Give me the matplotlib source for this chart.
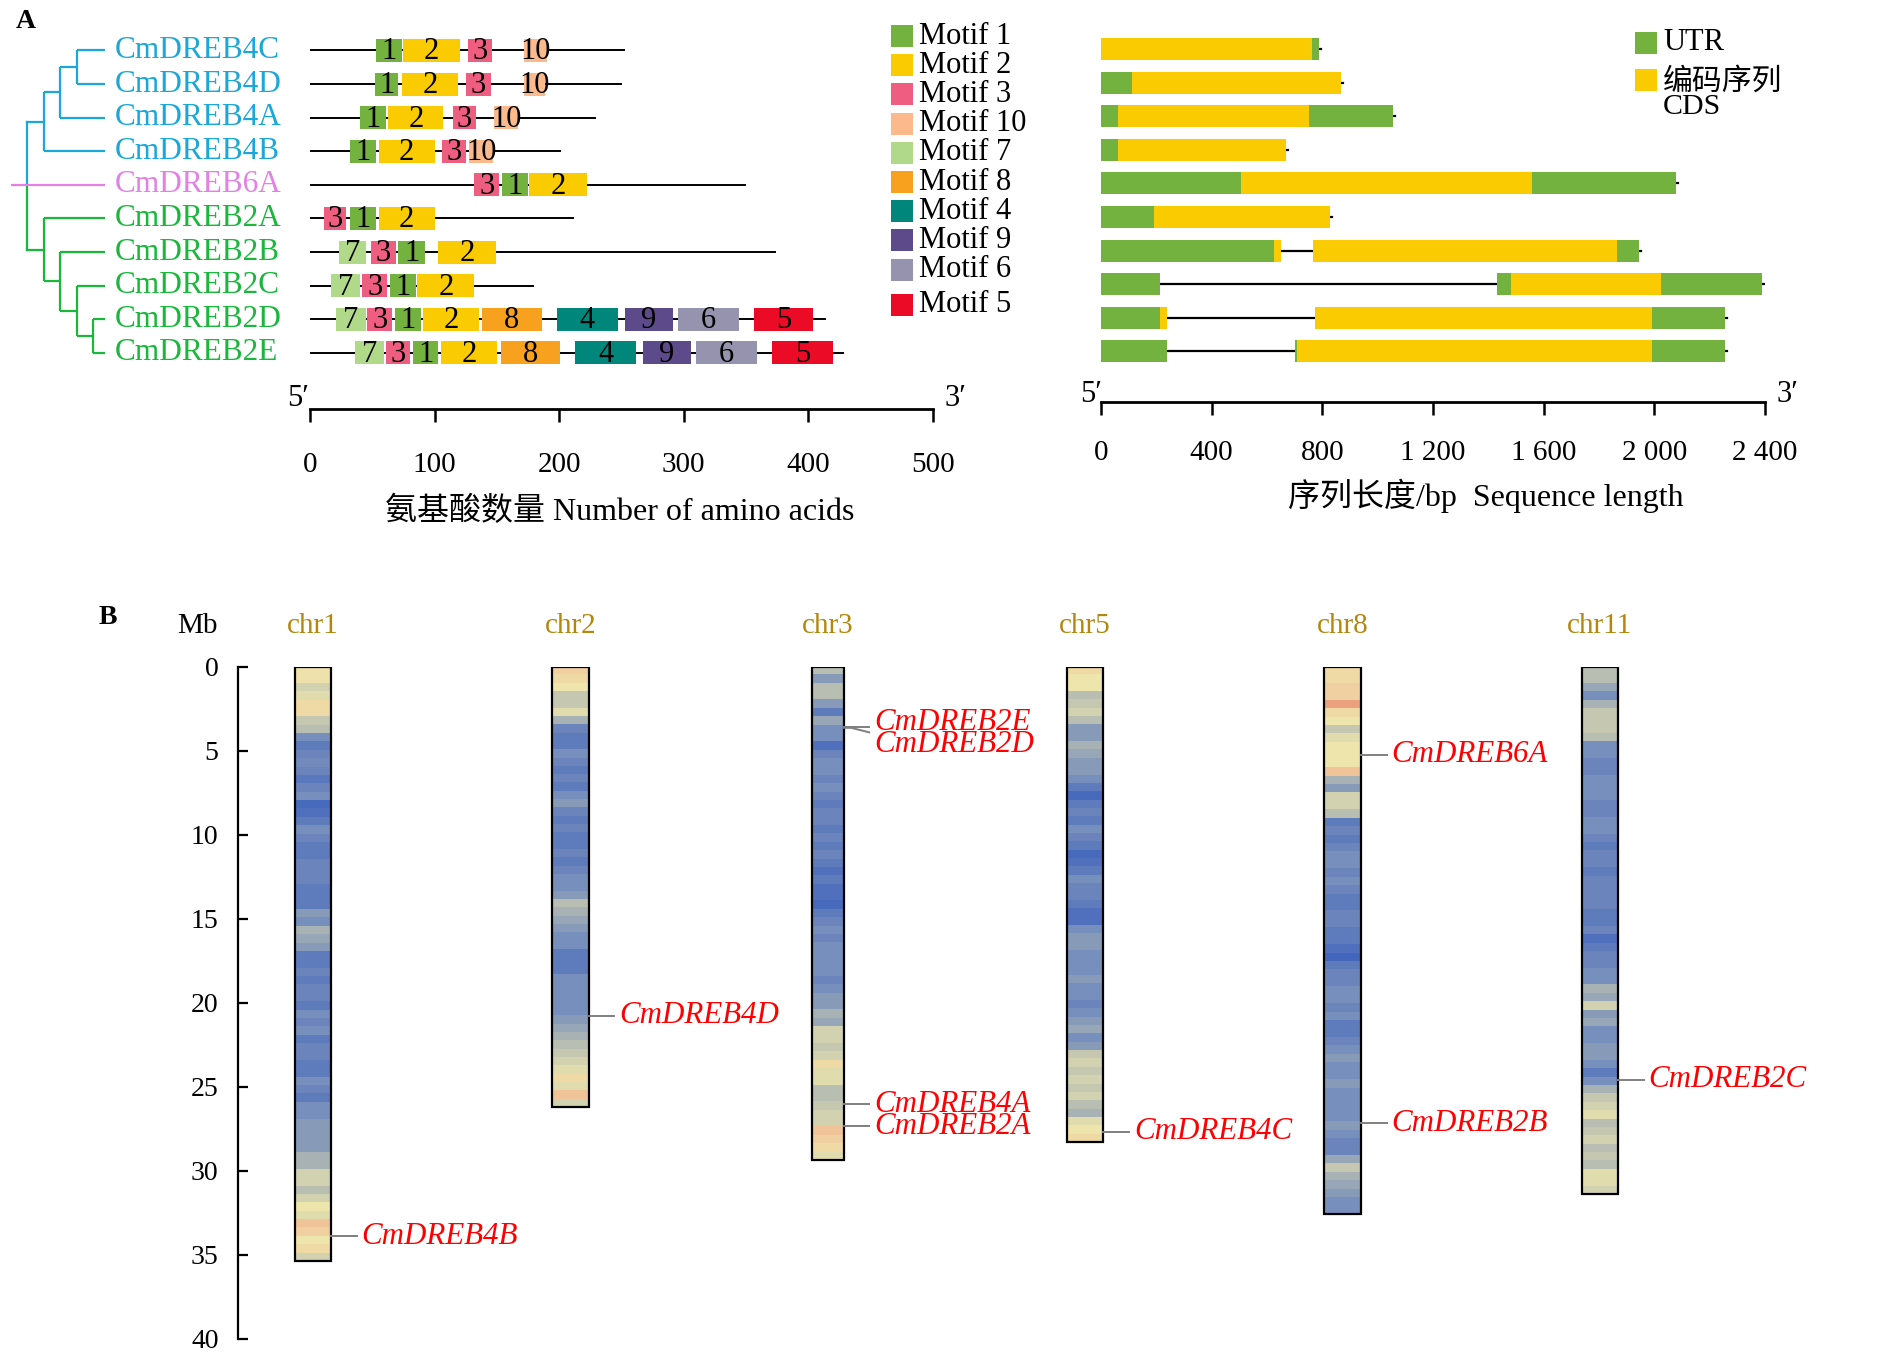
import numpy as np
import matplotlib.pyplot as plt
from matplotlib.patches import Rectangle
from matplotlib.colors import LinearSegmentedColormap

# ---- data: panel A (motifs / gene structure) ----
genes = ['CmDREB4C', 'CmDREB4D', 'CmDREB4A', 'CmDREB4B', 'CmDREB6A',
         'CmDREB2A', 'CmDREB2B', 'CmDREB2C', 'CmDREB2D', 'CmDREB2E']
gene_colors = ['#1AA7DA'] * 4 + ['#E47FE6'] + ['#18B83A'] * 5
protein_len = [252, 250, 229, 201, 349, 211, 373, 179, 413, 428]

# (motif id, start aa, end aa) for each protein
motif_layout = [
    [(1, 53, 74), (2, 75, 120), (3, 127, 146), (10, 172, 190)],
    [(1, 52, 71), (2, 74, 119), (3, 125, 145), (10, 172, 189)],
    [(1, 40, 61), (2, 63, 107), (3, 115, 133), (10, 148, 167)],
    [(1, 32, 53), (2, 55, 100), (3, 106, 125), (10, 128, 147)],
    [(3, 132, 152), (1, 154, 175), (2, 176, 222)],
    [(3, 11, 29), (1, 32, 53), (2, 55, 100)],
    [(7, 23, 45), (3, 49, 69), (1, 71, 92), (2, 103, 149)],
    [(7, 17, 40), (3, 42, 62), (1, 64, 85), (2, 86, 132)],
    [(7, 21, 45), (3, 46, 66), (1, 68, 89), (2, 91, 136), (8, 138, 186),
     (4, 198, 247), (9, 253, 291), (6, 295, 344), (5, 356, 404)],
    [(7, 36, 59), (3, 61, 80), (1, 83, 103), (2, 105, 150), (8, 153, 201),
     (4, 213, 262), (9, 267, 306), (6, 310, 359), (5, 371, 420)],
]
motif_order = [1, 2, 3, 10, 7, 8, 4, 9, 6, 5]
motif_colors = {1: '#74B23F', 2: '#FACB00', 3: '#EF5E80', 10: '#FCB98C',
                7: '#B1D98A', 8: '#F7A11E', 4: '#00867A', 9: '#5D4A8B',
                6: '#9593AE', 5: '#EC0B27'}

gene_len_bp = [787, 867, 1055, 668, 2078, 827, 1944, 2389, 2256, 2256]
utr_segments = [
    [(762, 787)], [(0, 111)], [(0, 60), (751, 1055)], [(0, 60)],
    [(0, 505), (1558, 2078)], [(0, 190)], [(0, 624), (1865, 1944)],
    [(0, 212), (1431, 1482), (2024, 2389)], [(0, 212), (1992, 2256)],
    [(0, 237), (700, 708), (1992, 2256)],
]
cds_segments = [
    [(0, 762)], [(111, 867)], [(60, 751)], [(60, 668)], [(505, 1558)],
    [(190, 827)], [(624, 650), (766, 1865)], [(1482, 2024)],
    [(212, 237), (773, 1992)], [(708, 1992)],
]
bp_ticks = [0, 400, 800, 1200, 1600, 2000, 2400]
bp_tick_labels = ['0', '400', '800', '1 200', '1 600', '2 000', '2 400']

# tree: nested tuples of row indices
tree_4 = (((0, 1), 2), 3)
tree_2 = (5, (6, (7, (8, 9))))

# ---- data: panel B (chromosome map) ----
chrom_names = ['chr1', 'chr2', 'chr3', 'chr5', 'chr8', 'chr11']
chrom_len = [35.4, 26.2, 29.4, 28.3, 32.6, 31.4]
chrom_width = [0.142, 0.142, 0.122, 0.142, 0.142, 0.142]
bin_mb = 0.5
# gene density per 0.5 Mb bin (0 = low, 1 = high)
density = [
    [0.72, 0.72, 0.6, 0.65, 0.75, 0.75, 0.55, 0.5, 0.3, 0.2,
     0.25, 0.28, 0.25, 0.18, 0.25, 0.3, 0.12, 0.15, 0.2, 0.3,
     0.25, 0.2, 0.2, 0.25, 0.25, 0.25, 0.2, 0.2, 0.2, 0.35,
     0.3, 0.45, 0.4, 0.35, 0.2, 0.2, 0.25, 0.2, 0.25, 0.25,
     0.2, 0.3, 0.25, 0.3, 0.2, 0.25, 0.25, 0.2, 0.2, 0.3,
     0.25, 0.2, 0.3, 0.3, 0.35, 0.35, 0.35, 0.35, 0.45, 0.45,
     0.6, 0.6, 0.5, 0.6, 0.7, 0.65, 0.85, 0.8, 0.7, 0.75, 0.6],
    [0.8, 0.75, 0.7, 0.55, 0.55, 0.65, 0.45, 0.25, 0.2, 0.2,
     0.3, 0.25, 0.2, 0.25, 0.2, 0.3, 0.35, 0.25, 0.2, 0.25,
     0.2, 0.2, 0.25, 0.2, 0.25, 0.3, 0.3, 0.35, 0.5, 0.45,
     0.4, 0.35, 0.3, 0.3, 0.2, 0.2, 0.2, 0.3, 0.3, 0.3,
     0.3, 0.3, 0.35, 0.4, 0.45, 0.5, 0.55, 0.6, 0.65, 0.75,
     0.65, 0.85, 0.6],
    [0.5, 0.35, 0.5, 0.5, 0.35, 0.2, 0.4, 0.3, 0.3, 0.15,
     0.25, 0.3, 0.3, 0.25, 0.3, 0.25, 0.2, 0.25, 0.25, 0.2,
     0.25, 0.2, 0.25, 0.2, 0.15, 0.2, 0.15, 0.15, 0.12, 0.2,
     0.25, 0.3, 0.25, 0.3, 0.3, 0.3, 0.3, 0.25, 0.3, 0.35,
     0.35, 0.45, 0.4, 0.6, 0.6, 0.55, 0.6, 0.75, 0.65, 0.65,
     0.5, 0.5, 0.55, 0.6, 0.6, 0.85, 0.8, 0.75, 0.65],
    [0.75, 0.7, 0.7, 0.5, 0.55, 0.6, 0.5, 0.35, 0.35, 0.45,
     0.4, 0.35, 0.35, 0.3, 0.2, 0.12, 0.2, 0.25, 0.2, 0.3,
     0.25, 0.2, 0.12, 0.15, 0.2, 0.3, 0.25, 0.25, 0.2, 0.15,
     0.15, 0.3, 0.35, 0.35, 0.3, 0.3, 0.3, 0.35, 0.3, 0.3,
     0.25, 0.3, 0.35, 0.4, 0.3, 0.35, 0.55, 0.6, 0.55, 0.6,
     0.55, 0.6, 0.5, 0.45, 0.65, 0.7, 0.75],
    [0.75, 0.75, 0.8, 0.8, 0.9, 0.75, 0.7, 0.55, 0.65, 0.7,
     0.7, 0.7, 0.85, 0.45, 0.35, 0.6, 0.6, 0.5, 0.2, 0.25,
     0.2, 0.25, 0.3, 0.3, 0.25, 0.3, 0.25, 0.2, 0.2, 0.25,
     0.25, 0.2, 0.2, 0.15, 0.1, 0.2, 0.25, 0.25, 0.3, 0.3,
     0.25, 0.3, 0.2, 0.2, 0.25, 0.3, 0.35, 0.3, 0.3, 0.35,
     0.3, 0.3, 0.3, 0.3, 0.35, 0.3, 0.25, 0.25, 0.4, 0.55,
     0.45, 0.4, 0.35, 0.3, 0.3],
    [0.5, 0.5, 0.4, 0.3, 0.45, 0.55, 0.55, 0.55, 0.5, 0.3,
     0.3, 0.25, 0.25, 0.3, 0.3, 0.3, 0.25, 0.25, 0.3, 0.3,
     0.25, 0.2, 0.25, 0.25, 0.2, 0.25, 0.25, 0.25, 0.25, 0.2,
     0.2, 0.25, 0.15, 0.2, 0.25, 0.25, 0.3, 0.3, 0.45, 0.4,
     0.6, 0.35, 0.4, 0.3, 0.3, 0.35, 0.35, 0.3, 0.2, 0.3,
     0.45, 0.55, 0.6, 0.65, 0.5, 0.55, 0.6, 0.5, 0.55, 0.5,
     0.65, 0.65, 0.6],
]
loc_genes = ['CmDREB4B', 'CmDREB4D', 'CmDREB2E', 'CmDREB2D', 'CmDREB4A',
             'CmDREB2A', 'CmDREB4C', 'CmDREB6A', 'CmDREB2B', 'CmDREB2C']
loc_chrom = [0, 1, 2, 2, 2, 2, 3, 4, 4, 5]
loc_mb = [33.9, 20.8, 3.6, 3.65, 26.05, 27.35, 27.7, 5.25, 27.2, 24.6]
loc_lead_end = [33.9, 20.8, 3.6, 3.92, 26.05, 27.35, 27.7, 5.25, 27.2, 24.6]
loc_label_mb = [33.9, 20.8, 3.32, 4.66, 26.05, 27.4, 27.7, 5.25, 27.2, 24.6]

# ---- figure ----
W, H = 1890, 1358
plt.rcParams['font.family'] = ['Liberation Serif', 'Noto Sans CJK SC', 'DejaVu Serif']
fig = plt.figure(figsize=(W / 100, H / 100), dpi=100)


def box(x0, y0, x1, y1):
    return [x0 / W, 1 - y1 / H, (x1 - x0) / W, (y1 - y0) / H]


def only_bottom(ax):
    for s in ['top', 'left', 'right']:
        ax.spines[s].set_visible(False)
    ax.set_yticks([])


# panel A left: conserved motifs
ax_m = fig.add_axes(box(310, 33.7, 933, 409))
ax_m.set_xlim(0, 500)
ax_m.set_ylim(10.67, -0.5)
for i, L in enumerate(protein_len):
    ax_m.plot([0, L], [i, i], color='black', lw=1.4, zorder=1)
    for mid, s, e in motif_layout[i]:
        ax_m.add_patch(Rectangle((s, i - 0.34), e - s, 0.68,
                                 fc=motif_colors[mid], ec='none', zorder=2))
        ax_m.text((s + e) / 2, i + 0.04, str(mid), ha='center', va='center',
                  fontsize=22, zorder=3)
only_bottom(ax_m)
ax_m.spines['bottom'].set_linewidth(2)
ax_m.spines['bottom'].set_bounds(0, 500)
ax_m.set_xticks(range(0, 501, 100))
ax_m.tick_params(axis='x', direction='out', length=9, width=1.8, pad=22,
                 labelsize=21)

# tree
ax_t = fig.add_axes(box(11, 33.7, 105, 409))
ax_t.set_xlim(-1, 4.7)
ax_t.set_ylim(10.67, -0.5)
ax_t.axis('off')
TIP = 4.7


def draw_clade(node, depth, color):
    if isinstance(node, int):
        return TIP, node
    kids = [draw_clade(c, depth + 1, color) for c in node]
    ys = [k[1] for k in kids]
    ax_t.plot([depth, depth], [min(ys), max(ys)], color=color, lw=1.6,
              solid_capstyle='butt')
    for kx, ky in kids:
        ax_t.plot([depth, kx], [ky, ky], color=color, lw=1.6,
                  solid_capstyle='butt')
    return depth, float(np.mean(ys))


_, y4 = draw_clade(tree_4, 1, gene_colors[0])
_, y2 = draw_clade(tree_2, 1, gene_colors[-1])
ax_t.plot([0, 1], [y4, y4], color=gene_colors[0], lw=1.6)
ax_t.plot([0, 1], [y2, y2], color=gene_colors[-1], lw=1.6)
ax_t.plot([0, 0], [y4, 4], color=gene_colors[0], lw=1.6)
ax_t.plot([0, 0], [4, y2], color=gene_colors[-1], lw=1.6)
ax_t.plot([-1, TIP], [4, 4], color=gene_colors[4], lw=1.6)
for i, g in enumerate(genes):
    ax_t.text(TIP + 0.6, i, g, color=gene_colors[i], fontsize=22.5,
              ha='left', va='center', clip_on=False)

# panel A right: gene structure
ax_g = fig.add_axes(box(1101, 32.2, 1765, 402))
ax_g.set_xlim(0, 2400)
ax_g.set_ylim(10.506, -0.5)
for i, L in enumerate(gene_len_bp):
    ax_g.plot([-8, L + 8], [i, i], color='black', lw=1.6, zorder=1)
    for s, e in utr_segments[i]:
        ax_g.add_patch(Rectangle((s, i - 0.33), e - s, 0.66, fc='#74B23F',
                                 ec='none', zorder=2))
    for s, e in cds_segments[i]:
        ax_g.add_patch(Rectangle((s, i - 0.33), e - s, 0.66, fc='#FACB00',
                                 ec='none', zorder=2))
only_bottom(ax_g)
ax_g.spines['bottom'].set_linewidth(2)
ax_g.spines['bottom'].set_bounds(0, 2400)
ax_g.set_xticks(bp_ticks)
ax_g.set_xticklabels(bp_tick_labels)
ax_g.tick_params(axis='x', direction='out', length=9, width=1.8, pad=18,
                 labelsize=21)

# overlay for legends and free text
ax_o = fig.add_axes([0, 0, 1, 1])
ax_o.set_xlim(0, W)
ax_o.set_ylim(H, 0)
ax_o.axis('off')
ax_o.set_zorder(5)
for k, mid in enumerate(motif_order):
    yc = 36 + 29.2 * k + (6 if mid == 5 else 0)
    ax_o.add_patch(Rectangle((891, yc - 11), 22, 22, fc=motif_colors[mid], ec='none'))
    ax_o.text(919, yc, f'Motif {mid}', fontsize=22, ha='left', va='center')

ax_o.add_patch(Rectangle((1635, 32), 22, 22, fc='#74B23F', ec='none'))
ax_o.add_patch(Rectangle((1635, 69), 22, 22, fc='#FACB00', ec='none'))
ax_o.text(1663, 43, 'UTR', fontsize=22, ha='left', va='center')
ax_o.text(1663, 94, '编码序列\nCDS', fontsize=21.5, ha='left', va='center',
          linespacing=0.95)

for x, y, s in [(298, 399, '5′'), (955, 399, '3′'), (1091, 394, '5′'), (1787, 394, '3′')]:
    ax_o.text(x, y, s, fontsize=22, ha='center', va='center')
ax_o.text(620, 512, '氨基酸数量 Number of amino acids', fontsize=23,
          ha='center', va='center')
ax_o.text(1486, 496, '序列长度/bp  Sequence length', fontsize=23,
          ha='center', va='center')
ax_o.text(26, 22, 'A', fontsize=20, fontweight='bold', ha='center', va='center')
ax_o.text(108, 617, 'B', fontsize=20, fontweight='bold', ha='center', va='center')

# panel B: chromosome locations
cmap = LinearSegmentedColormap.from_list(
    'dens', [(0, '#2A52BE'), (0.3, '#7890BC'), (0.5, '#B8BEB2'),
             (0.7, '#EEE6AE'), (0.85, '#F2C49A'), (1, '#E2604A')])
ax_c = fig.add_axes(box(238, 666.5, 1890, 1338.5))
for c, (name, L, w) in enumerate(zip(chrom_names, chrom_len, chrom_width)):
    vals = np.array(density[c], dtype=float).reshape(-1, 1)
    ax_c.imshow(vals, cmap=cmap, vmin=0, vmax=1, aspect='auto',
                interpolation='nearest',
                extent=[c - w / 2, c + w / 2, L, 0], zorder=1)
    ax_c.add_patch(Rectangle((c - w / 2, 0), w, L, fc='none', ec='black',
                             lw=1.6, zorder=2))
    ax_c.text(c, -2.4, name, color='#B3860E', fontsize=21, ha='center',
              va='center', clip_on=False)
for g, c, mb, le, lm in zip(loc_genes, loc_chrom, loc_mb, loc_lead_end, loc_label_mb):
    edge = c + chrom_width[c] / 2
    ax_c.plot([edge, edge + 0.03, edge + 0.1], [mb, mb, le], color='#7F7F7F',
              lw=1.4, zorder=2)
    ax_c.text(edge + 0.118, lm, g, color='#FF0000', fontsize=22.3,
              fontstyle='italic', ha='left', va='center')
ax_c.text(-0.45, -2.4, 'Mb', fontsize=21, ha='center', va='center', clip_on=False)
ax_c.set_xlim((238 - 313) / 257.4, (1890 - 313) / 257.4)
ax_c.set_ylim(40, 0)
for s in ['top', 'right', 'bottom']:
    ax_c.spines[s].set_visible(False)
ax_c.spines['left'].set_linewidth(1.6)
ax_c.set_xticks([])
ax_c.set_yticks(range(0, 41, 5))
ax_c.tick_params(axis='y', direction='in', length=7, width=1.6, pad=14,
                 labelsize=20)

fig.savefig('out.png', dpi=100)
